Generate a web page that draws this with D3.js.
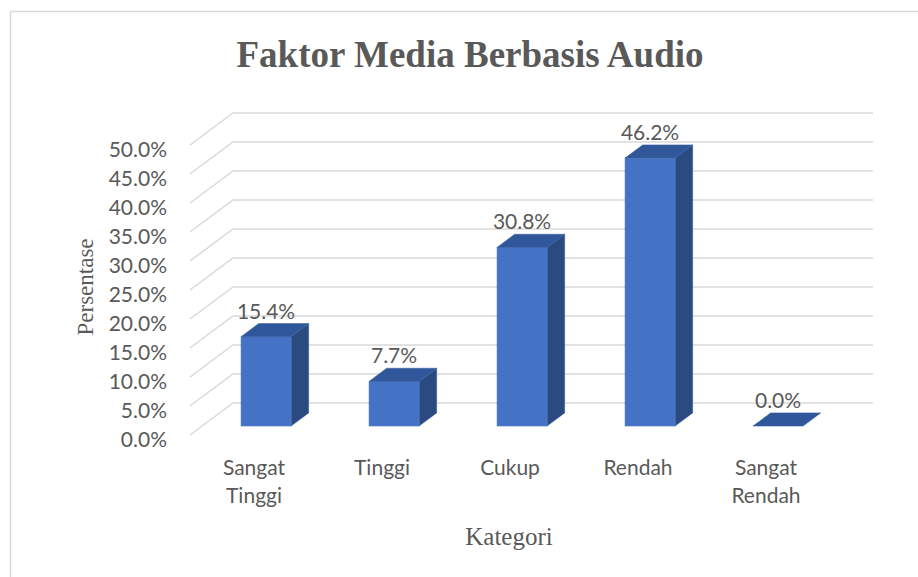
<!DOCTYPE html>
<html>
<head>
<meta charset="utf-8">
<script src="https://cdn.jsdelivr.net/npm/d3@7"></script>
<style>
  body { margin: 0; background: #fff; }
  text { fill: #595959; }
</style>
</head>
<body>
<div id="chart"></div>
<script>
// chart data
const categories = ["Sangat Tinggi", "Tinggi", "Cukup", "Rendah", "Sangat Rendah"];
const values = [0.154, 0.077, 0.308, 0.462, 0.0];
const valueLabels = ["15.4%", "7.7%", "30.8%", "46.2%", "0.0%"];
const yTicks = [0, 0.05, 0.1, 0.15, 0.2, 0.25, 0.3, 0.35, 0.4, 0.45, 0.5];

const width = 918, height = 577;
const depthX = 43, depthY = -32;   // oblique offset of the back wall
const barZ0 = 0.28, barZ1 = 0.69;  // bar depth in the room
const sansFont = "Lato, 'Open Sans', sans-serif";
const serifFont = "'Liberation Serif', 'Times New Roman', serif";

let svg = d3.select("#chart")
    .append("svg")
    .attr("width", width)
    .attr("height", height);

// chart border
svg.append("rect")
    .attr("x", 10.5).attr("y", 11.5)
    .attr("width", 940).attr("height", 600)
    .attr("fill", "none")
    .attr("stroke", "#d9d9d9")
    .attr("stroke-width", 1.5);

let x = d3.scaleBand()
    .domain(categories)
    .range([190, 830]);

let y = d3.scaleLinear()
    .domain([0, 0.5])
    .range([435, 145]);

// gridlines: diagonal side part + back wall
let grid = svg.append("g");
yTicks.forEach(function(t) {
    grid.append("path")
        .attr("d", `M${x.range()[0]},${y(t)} L${x.range()[0] + depthX},${y(t) + depthY} L${x.range()[1] + depthX},${y(t) + depthY}`)
        .attr("fill", "none")
        .attr("stroke", "#d9d9d9")
        .attr("stroke-width", 1.5);
});

// y tick labels
svg.append("g").selectAll("text")
    .data(yTicks)
    .join("text")
    .attr("x", 167)
    .attr("y", function(d) { return y(d) + 12; })
    .attr("text-anchor", "end")
    .style("font-family", sansFont)
    .style("font-size", "21px")
    .text(d3.format(".1%"));

// 3d bars
const barW = 50;
let bars = svg.append("g");
categories.forEach(function(c, i) {
    let x0 = x(c) + (x.bandwidth() - barW) / 2 + barZ0 * depthX;
    let x1 = x0 + barW;
    let yb = y(0) + barZ0 * depthY;
    let yt = y(values[i]) + barZ0 * depthY;
    let dx = (barZ1 - barZ0) * depthX, dy = (barZ1 - barZ0) * depthY;

    if (values[i] > 0) {
        bars.append("path")
            .attr("d", `M${x1},${yt} L${x1 + dx},${yt + dy} L${x1 + dx},${yb + dy} L${x1},${yb} Z`)
            .attr("fill", "#2a4a80")
            .attr("stroke", "#3a5f9c").attr("stroke-width", 0.6);
        bars.append("rect")
            .attr("x", x0).attr("y", yt)
            .attr("width", barW).attr("height", yb - yt)
            .attr("fill", "#4472c4")
            .attr("stroke", "#5a83cb").attr("stroke-width", 0.6);
    }
    bars.append("path")
        .attr("d", `M${x0},${yt} L${x1},${yt} L${x1 + dx},${yt + dy} L${x0 + dx},${yt + dy} Z`)
        .attr("fill", "#30579a")
        .attr("stroke", "#3d62a3").attr("stroke-width", 0.6);

    svg.append("text")
        .attr("x", x0 + barW / 2)
        .attr("y", yt - 18)
        .attr("text-anchor", "middle")
        .style("font-family", sansFont)
        .style("font-size", "21px")
        .text(valueLabels[i]);
});

// category labels (wrapped on space)
let catLabels = svg.append("g").selectAll("text")
    .data(categories)
    .join("text")
    .attr("text-anchor", "middle")
    .style("font-family", sansFont)
    .style("font-size", "21px");

catLabels.each(function(d) {
    let words = d.split(" ");
    let t = d3.select(this);
    words.forEach(function(w, k) {
        t.append("tspan")
            .attr("x", x(d) + x.bandwidth() / 2)
            .attr("y", 475 + k * 28)
            .text(w);
    });
});

// title
svg.append("text")
    .attr("x", 470)
    .attr("y", 67)
    .attr("text-anchor", "middle")
    .style("font-family", serifFont)
    .style("font-weight", "bold")
    .style("font-size", "37px")
    .text("Faktor Media Berbasis Audio");

// axis titles
svg.append("text")
    .attr("transform", `translate(${93}, ${287}) rotate(-90)`)
    .attr("text-anchor", "middle")
    .style("font-family", serifFont)
    .style("font-size", "23px")
    .text("Persentase");

svg.append("text")
    .attr("x", 509)
    .attr("y", 545)
    .attr("text-anchor", "middle")
    .style("font-family", serifFont)
    .style("font-size", "25px")
    .text("Kategori");
</script>
</body>
</html>
